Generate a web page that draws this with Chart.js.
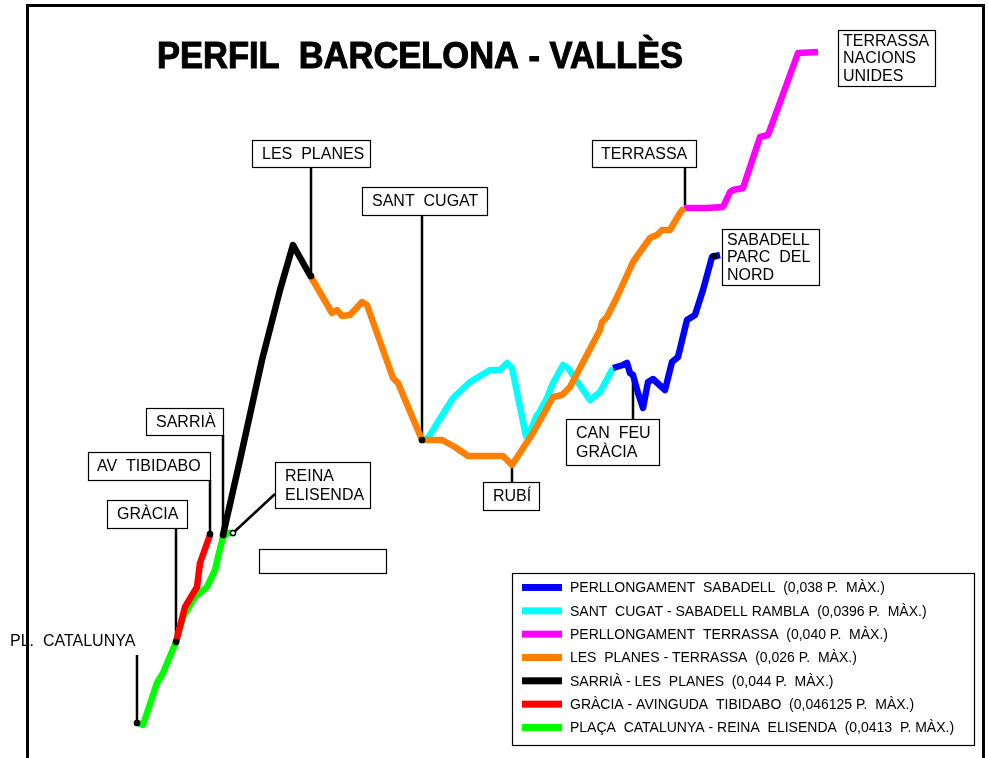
<!DOCTYPE html>
<html>
<head>
<meta charset="utf-8">
<script src="https://cdn.jsdelivr.net/npm/chart.js@4/dist/chart.umd.min.js"></script>
<style>
  html, body { margin: 0; padding: 0; background: #fff; }
  canvas { display: block; }
</style>
</head>
<body>
<canvas id="perfil" width="988" height="758"></canvas>
<script>
// --- Data (distance along the line / height) ---
const sabadellX = [613, 623, 627, 630, 633, 638, 643, 648, 653, 665, 672, 678, 687, 695, 703, 712, 720];
const sabadellH = [390, 393, 395, 385, 383, 365, 350, 376, 379, 368, 396, 401, 438, 443, 468, 501, 503];

const cugatX = [422, 428, 453, 470, 490, 500, 507, 512, 526, 532, 537, 535, 547, 553, 563, 568, 590, 600, 613];
const cugatH = [318, 320, 360, 376, 388, 388, 395, 390, 322, 331, 343, 338, 360, 375, 393, 390, 358, 366, 390];

const terrassaX = [684, 707, 723, 730, 733, 743, 760, 768, 798, 818];
const terrassaH = [550, 550, 551, 566, 568, 570, 621, 623, 705, 706];

const planesX = [311, 332, 337, 342, 350, 362, 367, 393, 398, 422, 442, 455, 468, 503, 512, 533, 553, 562, 570, 600, 602, 607, 617, 633, 650, 657, 662, 670, 680, 684];
const planesH = [481, 445, 448, 442, 443, 456, 453, 380, 375, 318, 318, 311, 302, 302, 293, 325, 361, 363, 371, 428, 436, 441, 461, 496, 520, 523, 528, 528, 545, 550];

const sarriaX = [223, 240, 262, 280, 293, 311];
const sarriaH = [223, 298, 398, 468, 513, 481];

const graciaX = [176, 185, 197, 200, 210];
const graciaH = [116, 151, 171, 195, 223];

const catalunyaX = [138, 143, 157, 163, 176, 183, 195, 207, 215, 218, 223, 228, 233];
const catalunyaH = [35, 33, 75, 85, 116, 141, 161, 171, 188, 201, 221, 225, 225];

const lineNames = [
    'PERLLONGAMENT  SABADELL  (0,038 P.  MÀX.)',
    'SANT  CUGAT - SABADELL RAMBLA  (0,0396 P.  MÀX.)',
    'PERLLONGAMENT  TERRASSA  (0,040 P.  MÀX.)',
    'LES  PLANES - TERRASSA  (0,026 P.  MÀX.)',
    'SARRIÀ - LES  PLANES  (0,044 P.  MÀX.)',
    'GRÀCIA - AVINGUDA  TIBIDABO  (0,046125 P.  MÀX.)',
    'PLAÇA  CATALUNYA - REINA  ELISENDA  (0,0413  P. MÀX.)'
];
const lineColors = ['#0000ff', '#00ffff', '#ff00ff', '#ff8000', '#000000', '#ff0000', '#00ff00'];

// stations
const stationNames = ['PL.  CATALUNYA', 'GRÀCIA', 'AV  TIBIDABO', 'SARRIÀ', 'REINA  ELISENDA', 'LES  PLANES',
    'SANT  CUGAT', 'RUBÍ', 'CAN  FEU  GRÀCIA', 'TERRASSA', 'SABADELL  PARC  DEL  NORD', 'TERRASSA  NACIONS  UNIDES'];
const stationX = [137, 176, 210, 223, 233, 311, 422, 512, 633, 685, 714, 818];
const stationH = [35, 116, 224, 223, 225, 482, 318, 293, 383, 550, 502, 706];
const stationDot = [true, true, true, true, true, true, true, false, false, false, true, false];

// --- Label layout (pixels): box, text lines, where the leader meets the box ---
const labelLayout = [
    { lines: ['PL.  CATALUNYA'], box: null, textX: 10, textY: [642], tip: [137, 655] },
    { lines: ['GRÀCIA'], box: [107, 500, 80, 28], textX: 117, tip: [176, 528] },
    { lines: ['AV  TIBIDABO'], box: [88, 452, 122, 28], textX: 97, tip: [210, 480] },
    { lines: ['SARRIÀ'], box: [146, 408, 77, 27], textX: 156, tip: [223, 435] },
    { lines: ['REINA', 'ELISENDA'], box: [275, 462, 95, 46], textX: 285, tip: [275, 494] },
    { lines: ['LES  PLANES'], box: [252, 140, 118, 27], textX: 262, tip: [311, 167] },
    { lines: ['SANT  CUGAT'], box: [362, 187, 125, 28], textX: 372, tip: [422, 215] },
    { lines: ['RUBÍ'], box: [483, 482, 56, 28], textX: 493, tip: [512, 482] },
    { lines: ['CAN  FEU', 'GRÀCIA'], box: [566, 419, 93, 46], textX: 576, tip: [633, 419] },
    { lines: ['TERRASSA'], box: [592, 140, 104, 27], textX: 601, tip: [685, 167] },
    { lines: ['SABADELL', 'PARC  DEL', 'NORD'], box: [722, 229, 97, 56], textX: 727, tip: null },
    { lines: ['TERRASSA', 'NACIONS', 'UNIDES'], box: [838, 30, 97, 56], textX: 843, tip: null }
];

const toPoints = (xs, hs) => xs.map((x, i) => ({ x: x, y: hs[i] }));

const seriesX = [sabadellX, cugatX, terrassaX, planesX, sarriaX, graciaX, catalunyaX];
const seriesH = [sabadellH, cugatH, terrassaH, planesH, sarriaH, graciaH, catalunyaH];
// draw order: orange above cyan, red above green
const seriesOrder = [2, 4, 3, 1, 2, 3, 6];

const datasets = seriesX.map((xs, i) => ({
    label: lineNames[i],
    data: toPoints(xs, seriesH[i]),
    borderColor: lineColors[i],
    backgroundColor: lineColors[i],
    borderWidth: 6.5,
    borderJoinStyle: 'round',
    borderCapStyle: 'butt',
    pointRadius: 0,
    tension: 0,
    fill: false,
    order: seriesOrder[i]
}));

const dotX = stationX.filter((x, i) => stationDot[i]);
const dotH = stationH.filter((h, i) => stationDot[i]);
datasets.push({
    label: 'stations',
    isStations: true,
    type: 'scatter',
    data: toPoints(dotX, dotH),
    showLine: false,
    pointRadius: 2.6,
    pointBorderWidth: 1.5,
    pointBorderColor: '#000',
    pointBackgroundColor: dotX.map((x, i) => (x === 233 ? '#fff' : '#000')),
    order: 0
});

const FONT = '"Liberation Sans", Arial, sans-serif';

// --- Plugin: leaders, boxes, legend, title, frame ---
const profilePlugin = {
    id: 'profile',
    beforeDatasetsDraw(chart) {
        const ctx = chart.ctx;
        const xs = chart.scales.x, ys = chart.scales.y;
        ctx.save();
        ctx.strokeStyle = '#000';
        ctx.lineWidth = 2.5;
        labelLayout.forEach((lab, i) => {
            if (!lab.tip) return;
            const ax = xs.getPixelForValue(stationX[i]);
            const ay = ys.getPixelForValue(stationH[i]);
            ctx.beginPath();
            ctx.moveTo(ax, ay);
            ctx.lineTo(lab.tip[0], lab.tip[1]);
            ctx.stroke();
        });
        ctx.restore();
    },
    afterDatasetsDraw(chart) {
        const ctx = chart.ctx;
        ctx.save();

        // station labels
        ctx.font = '16px ' + FONT;
        ctx.fillStyle = '#000';
        ctx.textBaseline = 'middle';
        ctx.textAlign = 'left';
        labelLayout.forEach(lab => {
            let ys = lab.textY;
            if (lab.box) {
                const [bx, by, bw, bh] = lab.box;
                ctx.fillStyle = '#fff';
                ctx.fillRect(bx, by, bw, bh);
                ctx.strokeStyle = '#000';
                ctx.lineWidth = 1.2;
                ctx.strokeRect(bx + 0.5, by + 0.5, bw, bh);
                ctx.fillStyle = '#000';
                const n = lab.lines.length;
                const lh = n === 3 ? 17.5 : 19;
                const cy = by + bh / 2 + 1;
                ys = lab.lines.map((l, k) => cy + (k - (n - 1) / 2) * lh);
            }
            lab.lines.forEach((l, k) => ctx.fillText(l, lab.textX, ys[k]));
        });

        // empty box
        ctx.strokeStyle = '#000';
        ctx.lineWidth = 1.2;
        ctx.strokeRect(259.5, 549.5, 127, 24);

        // legend
        const lx = 512, ly = 573, lw = 462, lh = 172;
        ctx.fillStyle = '#fff';
        ctx.fillRect(lx, ly, lw, lh);
        ctx.strokeRect(lx + 0.5, ly + 0.5, lw, lh);
        ctx.font = '14px ' + FONT;
        chart.data.datasets.filter(d => !d.isStations).forEach((d, i) => {
            const y = 587.5 + i * 23.33;
            ctx.fillStyle = d.borderColor;
            ctx.fillRect(522, y - 3.5, 40, 7);
            ctx.fillStyle = '#000';
            ctx.fillText(d.label, 570, y + 1);
        });

        // title
        ctx.font = 'bold 36px ' + FONT;
        ctx.textBaseline = 'alphabetic';
        const title = 'PERFIL  BARCELONA - VALLÈS';
        const tw = ctx.measureText(title).width;
        ctx.save();
        ctx.translate(157, 68);
        ctx.scale(526 / tw, 1);
        ctx.lineWidth = 1;
        ctx.strokeStyle = '#000';
        ctx.fillText(title, 0, 0);
        ctx.strokeText(title, 0, 0);
        ctx.restore();

        // frame
        ctx.strokeStyle = '#000';
        ctx.lineWidth = 3;
        ctx.beginPath();
        ctx.moveTo(27.5, 758);
        ctx.lineTo(27.5, 5.5);
        ctx.lineTo(983.5, 5.5);
        ctx.lineTo(983.5, 758);
        ctx.stroke();

        ctx.restore();
    }
};

const chart = new Chart(document.getElementById('perfil').getContext('2d'), {
    type: 'line',
    data: { datasets: datasets },
    options: {
        responsive: false,
        animation: false,
        layout: { padding: 0, autoPadding: false },
        scales: {
            x: { type: 'linear', min: 0, max: 988, display: false },
            y: { type: 'linear', min: 0, max: 758, display: false }
        },
        plugins: {
            legend: { display: false },
            tooltip: { enabled: false }
        }
    },
    plugins: [profilePlugin]
});
</script>
</body>
</html>
